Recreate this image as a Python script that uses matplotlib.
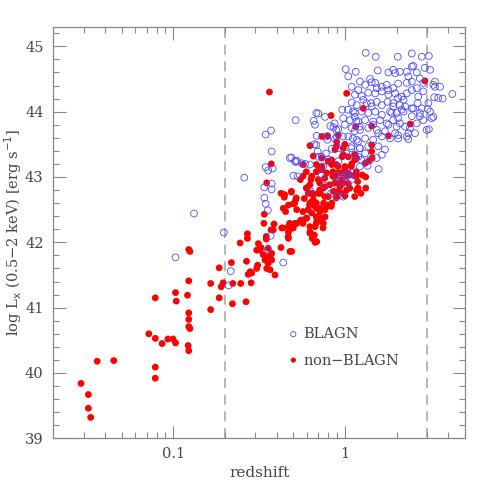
import matplotlib
matplotlib.use("Agg")
import matplotlib.pyplot as plt
from matplotlib.ticker import FixedLocator, FixedFormatter, MultipleLocator, LogLocator, NullFormatter

# broad-line AGN (open blue circles): redshift, log Lx (0.5-2 keV)
blagn_z = [0.103, 0.216, 0.210, 0.132, 0.197, 0.259, 0.345, 0.357, 0.379, 0.374,
           0.339, 0.374, 0.339, 0.345, 0.355, 0.500, 0.530, 0.625, 0.732, 0.758,
           0.829, 0.907, 0.977, 0.511, 0.585, 0.625, 0.914, 1.00, 0.369, 0.355,
           0.437, 0.516, 0.345, 0.371, 0.374, 0.478, 0.518, 0.657, 0.699, 0.669,
           0.765, 0.821, 0.855, 0.964, 0.977, 1.01, 1.045, 0.684, 0.789, 0.875,
           0.663, 0.837, 0.693, 0.732, 0.775, 0.914, 0.895, 0.560, 0.681, 0.890,
           1.041, 1.113, 1.139, 1.164, 1.218, 1.139, 1.113, 1.190, 1.218, 1.088,
           0.973, 0.778, 0.681, 0.931, 1.018, 1.139, 1.244, 0.487, 0.525, 0.871,
           0.998, 0.890, 0.952, 1.018, 1.041, 1.113,
           1.32, 1.51, 2.03, 2.45, 2.80, 3.08, 1.154, 1.55, 1.79, 1.91,
           1.96, 2.09, 2.29, 2.50, 2.62, 2.92, 3.13, 1.40, 1.43, 1.223,
           1.094, 1.195, 1.31, 1.50, 1.53, 1.64, 1.75, 1.79, 1.91, 2.04,
           2.29, 2.34, 2.45, 2.62, 2.73, 2.86, 3.34, 3.34, 3.58, 4.22,
           3.31, 3.49, 3.71, 3.06, 3.13, 3.27, 2.80, 3.03, 2.65, 2.45,
           2.73, 3.08, 1.143, 1.251, 1.367, 1.50, 1.64, 1.79, 1.96, 2.14,
           2.29, 1.094, 1.170, 1.278, 1.417, 1.53, 1.64, 1.77, 1.91, 2.09,
           2.24, 1.143, 1.251, 1.367, 1.50, 1.64, 1.83, 2.00, 2.19, 1.069,
           1.195, 1.31, 1.46, 1.60, 1.75, 1.91, 2.09, 2.24, 1.094, 1.223,
           1.367, 1.53, 1.71, 1.96, 2.04, 2.34, 2.34, 1.045, 1.170, 1.31,
           1.46, 1.64, 1.83, 1.094, 1.223, 1.367, 1.56, 1.71, 1.64, 1.53,
           1.31, 1.195, 1.40, 0.699, 0.747, 0.799, 1.57, 1.223, 1.094, 0.895,
           1.356, 2.04, 2.19, 1.338, 1.43, 1.91, 2.14, 1.87, 2.04, 2.45,
           2.50, 2.73, 2.67, 3.20, 2.99, 1.46, 1.79, 2.00, 2.39, 2.56,
           1.56, 2.04, 2.29, 2.62, 2.86, 2.45, 2.86, 3.27, 2.45]
blagn_lx = [41.77, 41.56, 41.34, 42.44, 42.15, 42.99, 43.15, 43.10, 43.13, 42.90,
            42.84, 42.81, 42.68, 42.59, 42.49, 43.02, 43.01, 42.79, 43.03, 42.87,
            42.75, 42.71, 42.70, 43.24, 43.20, 43.19, 43.24, 43.03, 42.10, 41.89,
            41.69, 43.87, 43.65, 43.71, 43.39, 43.29, 43.23, 43.86, 43.97, 43.80,
            43.92, 43.78, 43.76, 44.03, 43.90, 44.65, 44.54, 43.63, 43.57, 43.58,
            43.50, 43.43, 43.39, 43.31, 43.36, 43.73, 43.62, 43.21, 43.98, 43.72,
            44.03, 44.00, 43.92, 43.85, 43.77, 43.70, 43.59, 43.54, 43.44, 43.44,
            43.62, 43.62, 43.49, 43.44, 43.36, 43.34, 43.26, 43.30, 43.25, 43.82,
            43.80, 43.02, 43.00, 42.89, 43.05, 43.07,
            44.90, 44.84, 44.84, 44.89, 44.84, 44.85, 44.61, 44.63, 44.60, 44.64,
            44.59, 44.61, 44.61, 44.70, 44.60, 44.67, 44.64, 44.50, 44.45, 44.46,
            44.38, 44.33, 44.41, 44.44, 44.36, 44.38, 44.41, 44.33, 44.36, 44.43,
            44.44, 44.54, 44.46, 44.36, 44.51, 44.44, 44.46, 44.38, 44.38, 44.27,
            44.22, 44.21, 44.20, 44.13, 44.00, 43.92, 44.05, 44.04, 44.13, 44.05,
            43.93, 43.73, 44.26, 44.24, 44.29, 44.28, 44.31, 44.26, 44.28, 44.23,
            44.28, 44.14, 44.10, 44.18, 44.13, 44.15, 44.10, 44.15, 44.13, 44.10,
            44.08, 43.98, 44.00, 43.98, 44.00, 43.95, 44.00, 43.98, 44.00, 43.87,
            43.85, 43.87, 43.85, 43.87, 43.82, 43.87, 43.82, 43.77, 43.75, 43.72,
            43.75, 43.72, 43.70, 43.67, 43.59, 43.58, 43.67, 43.62, 43.57, 43.59,
            43.57, 43.62, 43.59, 43.47, 43.44, 43.47, 43.47, 43.42, 43.34, 43.29,
            43.36, 43.31, 43.26, 43.31, 43.16, 43.27, 43.12, 43.16, 42.96, 42.88,
            43.17, 44.21, 44.18, 44.13, 44.08, 44.08, 44.03, 43.98, 43.90, 43.93,
            44.05, 43.98, 44.23, 43.90, 43.72, 43.80, 43.80, 43.77, 43.75, 43.67,
            43.67, 43.64, 43.62, 43.82, 43.87, 44.33, 44.31, 44.41, 44.69]

# non-BLAGN (filled red circles)
other_z = [0.029, 0.032, 0.032, 0.033, 0.036, 0.045, 0.072, 0.0785, 0.0785, 0.0785,
           0.0785, 0.086, 0.093, 0.0996, 0.103, 0.103, 0.104, 0.121, 0.123, 0.125,
           0.123, 0.123, 0.123, 0.123, 0.125, 0.122, 0.123, 0.165, 0.165, 0.185,
           0.185, 0.190, 0.195, 0.222, 0.221, 0.218, 0.245, 0.247, 0.265, 0.267,
           0.273,
           0.372, 0.350, 0.424, 0.443, 0.487, 0.516, 0.500, 0.468, 0.579, 0.549,
           0.634, 0.611, 0.645, 0.654, 0.669, 0.625, 0.732, 0.782, 0.699, 0.715,
           0.765, 0.799, 0.751, 0.837, 0.914, 0.977, 0.875, 0.914, 1.00, 1.023,
           0.837, 0.957, 0.715, 0.765, 0.699, 0.747, 0.765, 0.611, 0.684, 0.554,
           0.523, 0.500, 0.468, 0.434, 0.468, 0.386, 0.371, 0.337, 0.348, 0.348,
           0.424, 0.489, 0.625, 0.645, 0.669, 0.625, 0.339, 0.270, 0.270, 0.313,
           0.306, 0.324, 0.334, 0.350, 0.374, 0.342, 0.357, 0.350, 0.366, 0.374,
           0.310, 0.306, 0.286, 0.391, 0.284, 0.280, 0.363,
           0.829, 1.023, 0.732, 0.793, 0.914, 0.625, 0.895, 0.875, 0.977, 0.654,
           0.732, 0.977, 0.837, 0.890, 0.998, 1.154, 0.964, 1.139, 0.797, 0.890,
           0.851, 0.681, 0.712, 0.998, 1.088, 1.164, 0.569,
           0.445, 0.487, 0.520, 0.509, 0.451, 0.476, 0.476, 0.595, 0.595, 0.651,
           0.712, 0.712, 0.761, 0.815, 0.851, 0.890, 0.973, 0.890, 0.761, 0.681,
           0.778, 0.681, 0.681, 0.745, 0.663, 0.569, 0.467, 1.065, 1.164, 1.19,
           1.065, 1.139, 0.569, 0.595, 0.681, 0.832, 0.622, 0.569,
           2.92, 1.278, 1.43, 1.79, 2.40, 1.43, 1.43, 1.44, 1.143, 1.045,
           1.17, 1.31, 1.094, 1.367, 1.133, 1.261, 1.32, 1.186, 1.023, 1.17,
           1.239, 1.32, 1.00,
           0.640, 0.732, 0.699, 0.747, 0.855, 0.895, 0.935, 1.045, 0.875, 0.957,
           0.640, 0.625, 0.732, 0.837, 0.914, 1.045, 0.654, 0.611, 0.640, 0.782,
           0.715, 0.684, 0.669, 0.654, 0.684, 0.625, 0.547, 0.511, 0.478, 0.468,
           0.428, 0.382, 0.523, 0.598, 0.437, 0.320, 0.357, 0.478, 0.366]
other_lx = [39.84, 39.67, 39.46, 39.32, 40.18, 40.19, 40.60, 40.53, 40.09, 39.92,
            41.15, 40.45, 40.52, 40.52, 40.46, 41.23, 41.10, 41.19, 41.89, 41.86,
            41.41, 40.92, 40.82, 40.71, 40.68, 40.42, 40.34, 41.37, 40.97, 41.61,
            41.15, 41.32, 41.38, 41.37, 41.06, 41.69, 41.99, 41.37, 41.09, 41.71,
            41.51,
            43.20, 42.91, 42.75, 42.69, 42.77, 42.65, 42.59, 42.57, 42.67, 42.96,
            42.96, 42.85, 42.75, 42.65, 42.55, 42.60, 43.16, 43.06, 42.96, 42.75,
            42.85, 42.70, 42.60, 42.60, 42.78, 42.75, 42.91, 43.06, 43.16, 43.01,
            43.21, 42.96, 42.47, 42.39, 42.34, 42.29, 42.50, 42.50, 42.52, 42.34,
            42.29, 42.22, 42.24, 42.22, 42.16, 42.28, 42.19, 42.29, 42.09, 42.05,
            41.92, 41.86, 42.14, 42.06, 42.00, 42.24, 42.43, 42.13, 42.06, 41.98,
            41.88, 41.92, 41.81, 41.78, 41.83, 41.73, 41.68, 41.60, 41.58, 41.73,
            41.65, 41.60, 41.53, 41.50, 41.38, 41.55, 44.30,
            43.94, 44.28, 43.62, 43.63, 43.64, 43.48, 43.54, 43.42, 43.44, 43.32,
            43.29, 43.34, 43.26, 43.47, 43.50, 43.77, 43.31, 43.26, 43.24, 43.19,
            43.08, 43.19, 43.11, 43.11, 43.16, 43.08, 43.19,
            42.73, 42.78, 42.68, 42.60, 42.47, 42.29, 42.19, 42.37, 42.83, 42.73,
            42.91, 42.80, 42.98, 42.88, 43.01, 42.91, 42.91, 42.68, 42.70, 42.60,
            42.57, 42.39, 42.29, 42.22, 42.11, 42.29, 42.09, 43.03, 43.01, 42.83,
            42.83, 42.70, 43.01, 43.08, 43.08, 42.55, 42.57, 42.47,
            44.47, 44.05, 43.78, 43.63, 43.81, 43.49, 43.39, 43.29, 43.34, 43.31,
            43.29, 43.21, 43.20, 43.24, 43.02, 43.03, 43.00, 42.93, 42.80, 42.80,
            42.75, 42.83, 42.71,
            42.45, 42.37, 42.75, 42.83, 42.78, 42.70, 42.85, 42.90, 43.01, 43.06,
            43.01, 42.88, 43.11, 43.19, 43.16, 43.06, 42.73, 42.75, 42.62, 42.55,
            42.52, 42.32, 42.24, 42.11, 42.01, 42.16, 42.32, 42.29, 42.22, 42.06,
            42.22, 42.19, 42.50, 42.37, 42.52, 41.88, 41.91, 41.86, 41.78]

z_limits = [0.2, 3.0]

text_col = "#444444"
axis_col = "#888888"
plt.rcParams["font.family"] = ["DejaVu Serif"]

fig = plt.figure(figsize=(4.91, 4.91), dpi=100)
ax = fig.add_axes([0.1086, 0.1073, 0.8384, 0.8383])

ax.scatter(other_z, other_lx, s=24, c="#ff0000", edgecolors="none", zorder=2)
ax.scatter(blagn_z, blagn_lx, s=24, facecolors="none", edgecolors="#4b4bff",
           linewidths=0.6, zorder=3)

for zl in z_limits:
    ax.axvline(zl, color="#aaaaaa", lw=1.2, ls=(0, (6, 4)), zorder=1)

ax.set_xscale("log")
ax.set_xlim(0.02, 5)
ax.set_ylim(39, 45.3)

ax.xaxis.set_major_locator(FixedLocator([0.1, 1]))
ax.xaxis.set_major_formatter(FixedFormatter(["0.1", "1"]))
ax.xaxis.set_minor_locator(LogLocator(base=10, subs=range(2, 10)))
ax.xaxis.set_minor_formatter(NullFormatter())
ax.yaxis.set_major_locator(MultipleLocator(1))
ax.yaxis.set_minor_locator(MultipleLocator(0.2))

ax.tick_params(which="both", direction="in", top=True, right=True,
               color=axis_col, labelcolor=text_col, labelsize=10.5)
ax.tick_params(which="major", length=9, width=0.8)
ax.tick_params(which="minor", length=4.5, width=0.8)
ax.tick_params(axis="y", pad=7)
ax.tick_params(axis="x", pad=6)
for sp in ax.spines.values():
    sp.set_color(axis_col)
    sp.set_linewidth(0.9)

ax.set_xlabel("redshift", color=text_col, fontsize=11, labelpad=4)
ax.set_ylabel(r"log L$_{\rm x}$ (0.5$-$2 keV) [erg s$^{-1}$]", color=text_col,
              fontsize=10.5, labelpad=1)

# legend drawn as in the original: symbol + label text
ax.scatter([0.583], [0.253], s=14, facecolors="none", edgecolors="#4b4bff",
           linewidths=0.6, transform=ax.transAxes)
ax.text(0.606, 0.253, "BLAGN", transform=ax.transAxes, va="center",
        color=text_col, fontsize=10.5)
ax.scatter([0.583], [0.190], s=14, c="#ff0000", edgecolors="none",
           transform=ax.transAxes)
ax.text(0.606, 0.190, "non$-$BLAGN", transform=ax.transAxes, va="center",
        color=text_col, fontsize=10.5)

fig.savefig("out.png", dpi=100)
